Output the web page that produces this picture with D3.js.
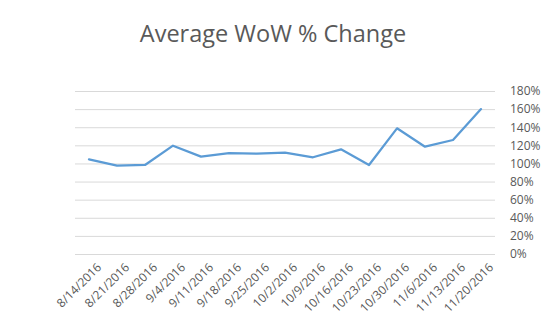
<!DOCTYPE html>
<html>
<head>
<meta charset="utf-8">
<script src="https://cdn.jsdelivr.net/npm/d3@7"></script>
<style>
  html, body { margin: 0; padding: 0; background: #fff; }
  svg { display: block; }
  text { font-family: "Open Sans", "Noto Sans", sans-serif; fill: #595959; }
</style>
</head>
<body>
<svg id="chart" width="550" height="332"></svg>
<script>
// Weekly dates and the average week-over-week change (%)
const weeks = ["8/14/2016","8/21/2016","8/28/2016","9/4/2016","9/11/2016","9/18/2016",
  "9/25/2016","10/2/2016","10/9/2016","10/16/2016","10/23/2016","10/30/2016",
  "11/6/2016","11/13/2016","11/20/2016"];
const avgChange = [104.6, 97.5, 98.3, 119.6, 107.5, 111.5, 110.8, 112.0, 106.8, 115.6,
  98.3, 138.8, 118.5, 125.9, 160.0];
const yTicks = [0, 20, 40, 60, 80, 100, 120, 140, 160, 180];
const title = "Average WoW % Change";

const svg = d3.select("#chart");
const plot = { left: 75, right: 495, top: 91, bottom: 254 };

const x = d3.scaleBand().domain(weeks).range([plot.left, plot.right]);
const y = d3.scaleLinear().domain([0, 180]).range([plot.bottom, plot.top]);

svg.append("text")
  .attr("x", 273).attr("y", 42)
  .attr("text-anchor", "middle")
  .style("font-size", "23.5px")
  .text(title);

// Horizontal gridlines
svg.append("g").selectAll("line").data(yTicks).join("line")
  .attr("x1", plot.left).attr("x2", plot.right)
  .attr("y1", d => y(d) + 0.5).attr("y2", d => y(d) + 0.5)
  .attr("stroke", "#d9d9d9").attr("stroke-width", 1);

// Value axis on the right
const yAxis = svg.append("g")
  .attr("transform", `translate(${plot.right},0)`)
  .call(d3.axisRight(y).tickValues(yTicks).tickFormat(d => d + "%").tickSize(0).tickPadding(15));
yAxis.select(".domain").remove();
yAxis.selectAll("text").style("font-size", "12px").attr("fill", "#595959");

// Category axis with rotated labels
const xAxis = svg.append("g")
  .attr("transform", `translate(0,${plot.bottom})`)
  .call(d3.axisBottom(x).tickSize(0));
xAxis.select(".domain").remove();
xAxis.selectAll("text")
  .style("font-size", "12px").attr("fill", "#595959")
  .attr("text-anchor", "end")
  .attr("transform", "translate(5,6) rotate(-45)")
  .attr("dy", "0.7em");

// Series line
const line = d3.line()
  .x((d, i) => x(weeks[i]) + x.bandwidth() / 2)
  .y(d => y(d));
svg.append("path")
  .datum(avgChange)
  .attr("d", line)
  .attr("fill", "none")
  .attr("stroke", "#5B9BD5")
  .attr("stroke-width", 2.25)
  .attr("stroke-linejoin", "round")
  .attr("stroke-linecap", "round");
</script>
</body>
</html>
